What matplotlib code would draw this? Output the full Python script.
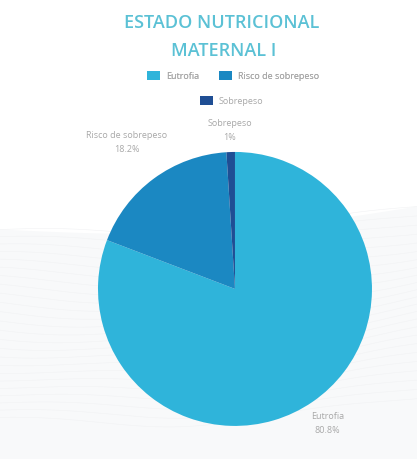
import numpy as np
import matplotlib.pyplot as plt
from matplotlib.patches import Patch

# data
categories = ["Eutrofia", "Risco de sobrepeso", "Sobrepeso"]
values = [80.8, 18.2, 1.0]
pct_labels = ["80.8%", "18.2%", "1%"]
colors = ["#2fb4da", "#1b88c2", "#1f4e94"]
label_dist = [1.19, 1.33, 1.16]

plt.rcParams["font.family"] = ["Open Sans", "DejaVu Sans"]
fig = plt.figure(figsize=(4.17, 4.59), dpi=100)
fig.patch.set_facecolor("white")

# faint wavy background
bg = fig.add_axes([0, 0, 1, 1], zorder=-1)
bg.set_xlim(0, 1)
bg.set_ylim(0, 1)
bg.axis("off")
xs = np.linspace(0, 1, 200)
top = 0.50 - 0.03 * np.sin(np.pi * xs) + 0.05 * xs
bg.fill_between(xs, 0, top, color="#f8f9fa", lw=0)
for k in range(24):
    bg.plot(xs, top - 0.018 * k + 0.008 * np.sin(2 * np.pi * xs * 1.5 + k * 0.3),
            color="#f1f2f4", lw=0.4)

ax = fig.add_axes([0.235, 0.072, 0.657, 0.597])
wedges, _ = ax.pie(values, colors=colors, startangle=90, counterclock=False,
                   wedgeprops=dict(linewidth=0))
ax.set_xlim(-1, 1)
ax.set_ylim(-1, 1)
ax.set_aspect("equal")
ax.axis("off")

# outside labels at wedge mid-angles
for w, cat, pl, d in zip(wedges, categories, pct_labels, label_dist):
    ang = np.deg2rad((w.theta1 + w.theta2) / 2)
    ax.text(d * np.cos(ang), d * np.sin(ang), cat + "\n" + pl,
            ha="center", va="center", fontsize=6.5, color="#a8a8a8",
            linespacing=1.7, clip_on=False)

fig.text(0.532, 0.949, "ESTADO NUTRICIONAL", ha="center", va="center",
         fontsize=13, fontweight="semibold", color="#5bc1d5")
fig.text(0.537, 0.889, "MATERNAL I", ha="center", va="center",
         fontsize=13, fontweight="semibold", color="#5bc1d5")

handles = [Patch(facecolor=c, edgecolor="none") for c in colors]
leg1 = fig.legend(handles[:2], categories[:2], loc="center", ncol=2,
                  bbox_to_anchor=(0.559, 0.834), frameon=False, fontsize=6.5,
                  handlelength=1.4, handleheight=1.1, columnspacing=2.2,
                  handletextpad=0.7, labelcolor="#a8a8a8")
fig.add_artist(leg1)
fig.legend(handles[2:], categories[2:], loc="center",
           bbox_to_anchor=(0.556, 0.78), frameon=False, fontsize=6.5,
           handlelength=1.4, handleheight=1.1, handletextpad=0.7,
           labelcolor="#a8a8a8")

fig.savefig("out.png", dpi=100)
